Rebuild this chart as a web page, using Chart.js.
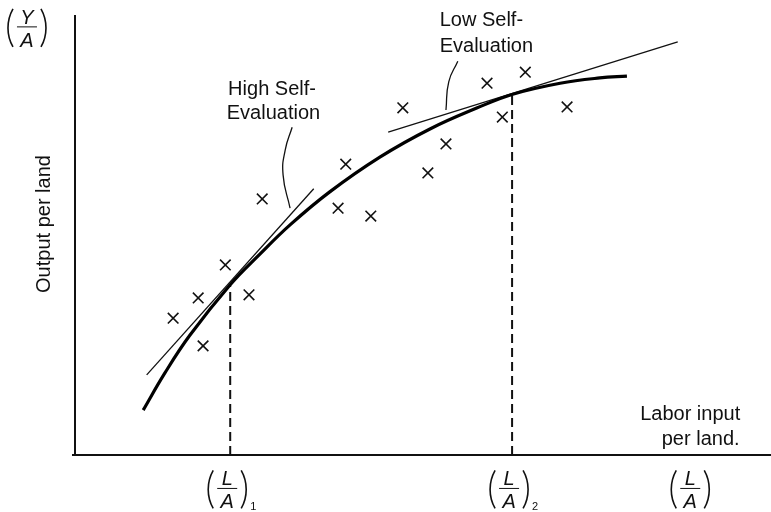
<!DOCTYPE html>
<html>
<head>
<meta charset="utf-8">
<script src="https://cdn.jsdelivr.net/npm/chart.js@4"></script>
<style>
html,body{margin:0;padding:0;background:#fff;overflow:hidden}
canvas{display:block}
</style>
</head>
<body>
<canvas id="chart" width="771" height="512"></canvas>
<script>
// output per land vs labor input per land, both in arbitrary units 0-100
const curveX = [9.8, 12.9, 16.5, 22.3, 26.6, 30.9, 36.6, 43.8, 51.0, 57.8, 62.9, 69.7, 75.4, 79.3]
const curveY = [10.2, 18.6, 27.2, 38.7, 45.7, 52.3, 59.8, 67.7, 74.1, 78.9, 82.0, 84.5, 85.7, 86.1]

// observed farms
const obsX = [14.1, 17.7, 18.4, 21.6, 25.0, 26.9, 37.8, 38.9, 42.5, 47.1, 50.7, 53.3, 59.2, 61.4, 64.7, 70.7]
const obsY = [31.1, 35.7, 24.8, 43.2, 36.4, 58.2, 56.1, 66.1, 54.3, 78.9, 64.1, 70.7, 84.5, 76.8, 87.0, 79.1]

// tangents
const highTanX = [10.3, 34.3]
const highTanY = [18.2, 60.5]
const lowTanX = [45.0, 86.6]
const lowTanY = [73.4, 93.9]

// leader lines of the two labels
const highLeadX = [31.2, 30.2, 29.9, 30.9]
const highLeadY = [74.5, 69.3, 63.6, 56.1]
const lowLeadX = [55.0, 53.7, 53.3]
const lowLeadY = [89.5, 84.8, 78.4]

// x ticks (L/A)1, (L/A)2, (L/A) and the curve height above the first two
const tickX = [22.3, 62.8, 88.4]
const tickSub = ['1', '2', '']
const dropY = [38.7, 82.1]

const pts = (xs, ys) => xs.map((x, i) => ({x: x, y: ys[i]}))

const SANS = '"Liberation Sans", Arial, sans-serif'

function paren(ctx, x, y, h, left) {
    const half = h / 2, sag = 5
    const r = (half * half + sag * sag) / (2 * sag)
    const a = Math.asin(half / r)
    ctx.beginPath()
    if (left) ctx.arc(x + r, y, r, Math.PI - a, Math.PI + a)
    else ctx.arc(x - r, y, r, -a, a)
    ctx.stroke()
}

// draws ( num / den )sub centred on cx with the fraction bar at by
function fraction(ctx, cx, by, num, den, sub) {
    ctx.save()
    ctx.strokeStyle = '#111'
    ctx.fillStyle = '#111'
    ctx.lineWidth = 1.6
    paren(ctx, cx - 19, by + 1, 38, true)
    paren(ctx, cx + 19, by + 1, 38, false)
    ctx.lineWidth = 1
    ctx.beginPath()
    ctx.moveTo(cx - 10, by)
    ctx.lineTo(cx + 10, by)
    ctx.stroke()
    ctx.font = 'italic 20px ' + SANS
    ctx.textAlign = 'center'
    ctx.textBaseline = 'alphabetic'
    ctx.fillText(num, cx, by - 3)
    ctx.fillText(den, cx, by + 20)
    if (sub) {
        ctx.font = '11px ' + SANS
        ctx.textAlign = 'left'
        ctx.fillText(sub, cx + 23, by + 22)
    }
    ctx.restore()
}

const decor = {
    id: 'decor',
    afterDatasetsDraw(chart) {
        const ctx = chart.ctx
        const sx = chart.scales.x, sy = chart.scales.y
        const X = v => sx.getPixelForValue(v), Y = v => sy.getPixelForValue(v)
        ctx.save()
        // axes
        ctx.strokeStyle = '#111'
        ctx.lineWidth = 2
        ctx.beginPath()
        ctx.moveTo(X(0), Y(100))
        ctx.lineTo(X(0), Y(0))
        ctx.moveTo(X(0) - 3, Y(0))
        ctx.lineTo(X(100), Y(0))
        ctx.stroke()

        ctx.fillStyle = '#111'
        ctx.font = '20px ' + SANS
        ctx.textAlign = 'left'
        ctx.fillText('High Self-', X(22.0), Y(81.8))
        ctx.fillText('Evaluation', X(21.8), Y(76.4))
        ctx.fillText('Low Self-', X(52.4), Y(97.5))
        ctx.fillText('Evaluation', X(52.4), Y(91.6))
        ctx.fillText('Labor input', X(81.2), Y(8.0))
        ctx.fillText('per land.', X(84.3), Y(2.3))

        ctx.save()
        ctx.translate(X(-3.6), Y(52.5))
        ctx.rotate(-Math.PI / 2)
        ctx.textAlign = 'center'
        ctx.fillText('Output per land', 0, 0)
        ctx.restore()

        fraction(ctx, X(-6.9), Y(97.3), 'Y', 'A', '')
        tickX.forEach((t, i) => {
            const shift = tickSub[i] ? -3 : 0
            fraction(ctx, X(t) + shift, Y(-7.6), 'L', 'A', tickSub[i])
        })
        ctx.restore()
    }
}

const thin = {showLine: true, pointRadius: 0, borderColor: '#111', borderWidth: 1.3}

new Chart(document.getElementById('chart'), {
    type: 'scatter',
    data: {
        datasets: [
            {data: pts(curveX, curveY), showLine: true, pointRadius: 0, borderColor: '#000',
             borderWidth: 3.2, tension: 0.4},
            Object.assign({data: pts(highTanX, highTanY)}, thin),
            Object.assign({data: pts(lowTanX, lowTanY)}, thin),
            Object.assign({data: pts(highLeadX, highLeadY), tension: 0.5}, thin),
            Object.assign({data: pts(lowLeadX, lowLeadY), tension: 0.5}, thin),
            {data: [{x: tickX[0], y: 0}, {x: tickX[0], y: dropY[0]}], showLine: true, pointRadius: 0,
             borderColor: '#111', borderWidth: 2, borderDash: [9, 5]},
            {data: [{x: tickX[1], y: 0}, {x: tickX[1], y: dropY[1]}], showLine: true, pointRadius: 0,
             borderColor: '#111', borderWidth: 2, borderDash: [9, 5]},
            {data: pts(obsX, obsY), pointStyle: 'crossRot', pointRadius: 7.5, borderColor: '#111',
             borderWidth: 1.6, backgroundColor: '#111'}
        ]
    },
    options: {
        responsive: false,
        animation: false,
        layout: {autoPadding: false, padding: {left: 75, right: 0, top: 15, bottom: 57}},
        scales: {
            x: {type: 'linear', min: 0, max: 100, display: false},
            y: {type: 'linear', min: 0, max: 100, display: false}
        },
        plugins: {legend: {display: false}, tooltip: {enabled: false}}
    },
    plugins: [decor]
})
</script>
</body>
</html>
